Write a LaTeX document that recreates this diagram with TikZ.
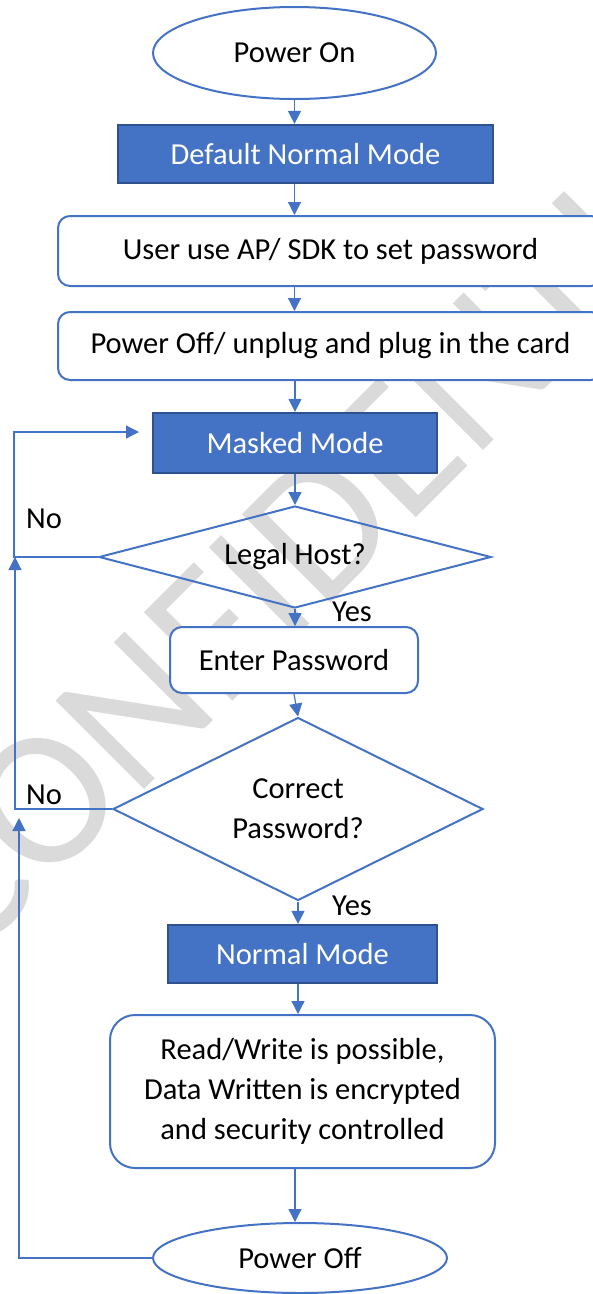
\documentclass[tikz,border=0pt]{standalone}
\usepackage{fontspec}
\setmainfont{Carlito}
\usetikzlibrary{shapes.geometric,arrows.meta,positioning}

\definecolor{flowblue}{RGB}{68,114,196}
\definecolor{flowedge}{RGB}{47,82,143}
\definecolor{wmgray}{RGB}{218,218,218}

\tikzset{
  termnode/.style={ellipse,draw=flowblue,fill=white,line width=2pt,inner sep=0pt},
  modebox/.style={rectangle,draw=flowedge,fill=flowblue,line width=2.2pt,text=white,inner sep=0pt},
  stepbox/.style={rectangle,rounded corners=12pt,draw=flowblue,fill=white,line width=2pt,inner sep=0pt},
  choice/.style={diamond,draw=flowblue,line width=2pt,inner sep=0pt},
  flowarr/.style={draw=flowblue,line width=1.2pt,-{Triangle[length=13pt,width=13pt]}},
  lbl/.style={fill=white,inner sep=1pt}
}

\begin{document}
\begin{tikzpicture}[x=1pt,y=1pt,yscale=-1,font=\fontsize{30.5}{40}\selectfont]
  \useasboundingbox (0,0) rectangle (593,1294);

  % Watermark
  \node[text=wmgray,rotate=45,font=\fontsize{195}{195}\selectfont] (wm) at (342,503) {CONFIDENTIAL};

  % Terminal
  \node[termnode,minimum width=283,minimum height=92] (pon) at (294.5,53) {Power On};
  % Mode Box
  \node[modebox,minimum width=375,minimum height=58] (dnm) at (305.5,154) {Default Normal Mode};
  %Rounded Rect
  \node[stepbox,minimum width=545,minimum height=70] (usr) at (330.5,251) {User use AP/ SDK to set password};
  %Rounded Rect
  \node[stepbox,minimum width=545,minimum height=68] (plug) at (330.5,346) {Power Off/ unplug and plug in the card};
  % Mode Box
  \node[modebox,minimum width=284,minimum height=60] (msk) at (295,443) {Masked Mode};
  % Decision
  \node[choice,aspect=3.8,minimum width=392,minimum height=102] (legal) at (295,557) {Legal Host?};
  %Rounded Rect
  \node[stepbox,minimum width=248,minimum height=66] (ent) at (294,660) {Enter Password};
  % Decision
  \node[choice,aspect=2,minimum width=370,minimum height=183,align=center] (corr) at (298,809) {Correct\\Password?};
  % Mode Box
  \node[modebox,minimum width=269,minimum height=58] (nrm) at (302.5,954) {Normal Mode};
  %Rounded Rect
  \node[stepbox,rounded corners=25pt,minimum width=385,minimum height=153,align=center] (rw) at (302.5,1091.5) {Read/Write is possible,\\Data Written is encrypted\\and security controlled};
  % Terminal
  \node[termnode,minimum width=294,minimum height=70] (poffe) at (300,1258) {Power Off};

  % Text Node
  \node[lbl] (no1) at (44,519) {No};
  % Text Node
  \node[lbl] (no2) at (44,795) {No};
  % Text Node
  \node[lbl] (yes1) at (352,612) {Yes};
  % Text Node
  \node[lbl] (yes2) at (352,906) {Yes};

  % Connectors
  \draw[flowarr] (pon.south) -- (pon.south |- dnm.north);
  \draw[flowarr] (dnm.south -| pon) -- (usr.north -| pon);
  \draw[flowarr] (usr.south -| pon) -- (plug.north -| pon);
  \draw[flowarr] (plug.south -| msk) -- (msk.north);
  \draw[flowarr] (msk.south) -- (legal.north);
  \draw[flowarr] (legal.south) -- (legal.south |- ent.north);
  \draw[flowarr] (ent.south) -- (corr.north);
  \draw[flowarr] (corr.south) -- (corr.south |- nrm.north);
  \draw[flowarr] (nrm.south -| corr) -- (rw.north -| corr);
  \draw[flowarr] (rw.south -| legal) -- (poffe.north -| legal);

  % Loops back
  \coordinate (hk1) at (14,432);
  \coordinate (hk1e) at (139,432);
  \draw[flowarr] (legal.west) -| (hk1) -- (hk1e);
  \coordinate (hk2) at (15,557);
  \draw[flowarr] (corr.west) -| (hk2);
  \coordinate (hk3) at (19,818);
  \draw[flowarr] (poffe.west) -| (hk3);
\end{tikzpicture}
\end{document}
